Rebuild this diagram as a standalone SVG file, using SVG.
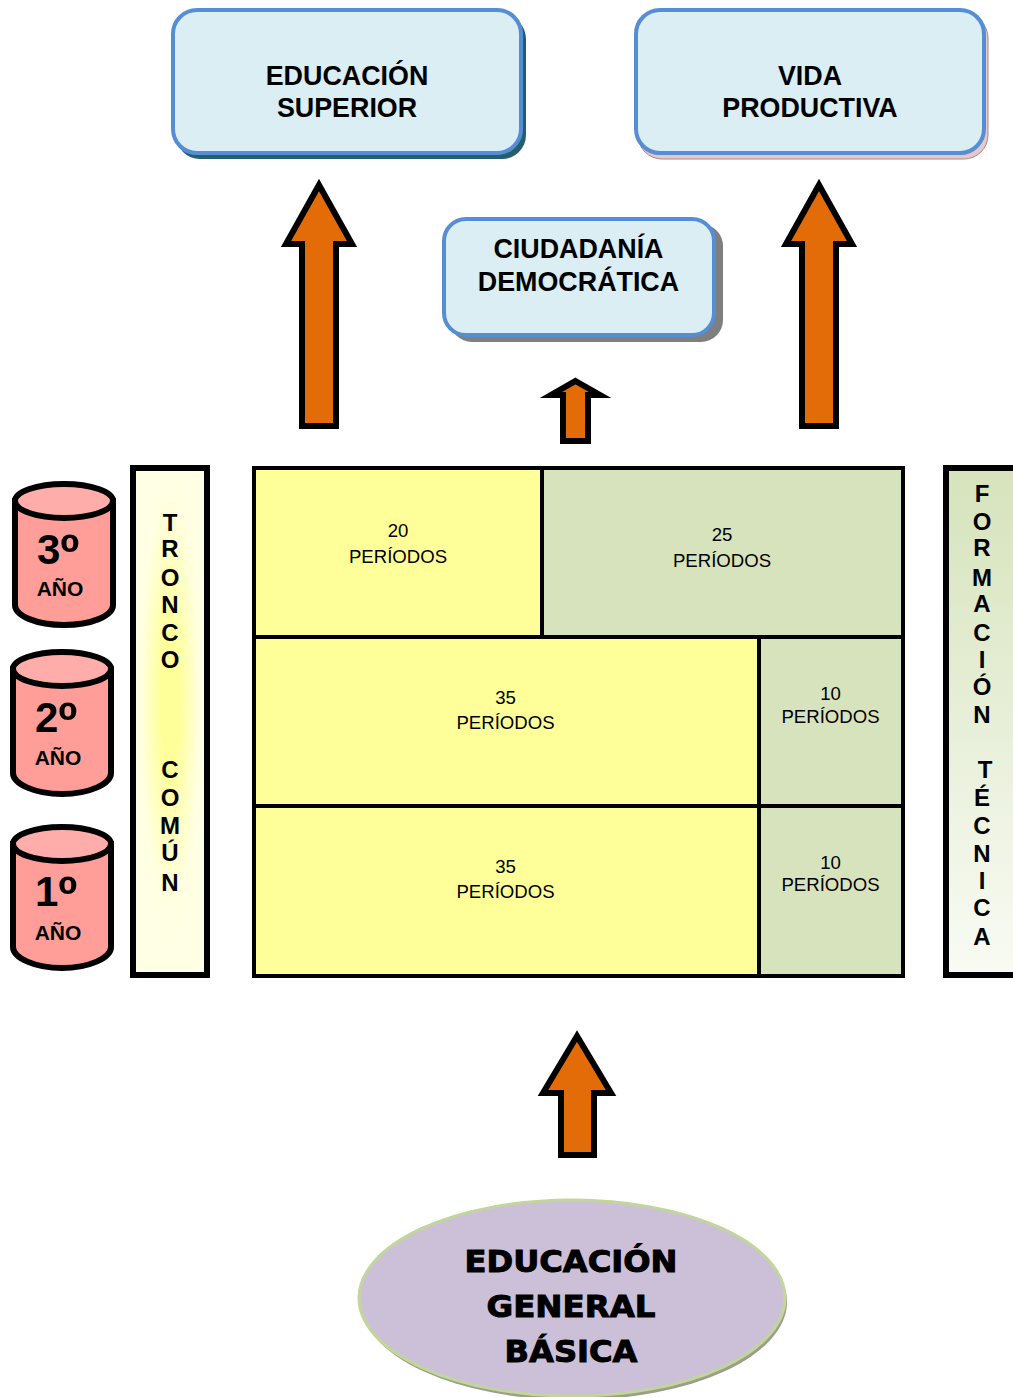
<svg xmlns="http://www.w3.org/2000/svg" width="1013" height="1397" viewBox="0 0 1013 1397">
<style>
text{font-family:"Liberation Sans",Arial,sans-serif;fill:#000}
.b{font-weight:bold;text-anchor:middle;font-size:26.850px}
.v{font-weight:bold;text-anchor:middle;font-size:24px}
.p{text-anchor:middle;font-size:18.6px}
.box{fill:#DBEEF4;stroke:#558ED5;stroke-width:4}
.arrow{fill:#E36C09;stroke:#000;stroke-width:6;stroke-miterlimit:10}
.cell{stroke:#000;stroke-width:4}
.y{fill:#FFFF99}.g{fill:#D7E3BC}
.cyl{fill:#FF9E99;stroke:#000;stroke-width:6}
.top{fill:#FFADAA;stroke:#000;stroke-width:6}
.n{font-weight:bold;font-size:42px}
.o{font-size:52px}
.a{font-weight:bold;font-size:21px;text-anchor:middle}
text.e{font-family:"DejaVu Sans",sans-serif;font-weight:bold;font-size:31px;text-anchor:middle;stroke:#000;stroke-width:1}
</style>
<defs>
<linearGradient id="ft" x1="0" y1="0" x2="0" y2="1"><stop offset="0" stop-color="#D6E3BC"/><stop offset="1" stop-color="#F9FBF4"/></linearGradient>
<radialGradient id="tc" cx="0.5" cy="0.46" r="0.5"><stop offset="0" stop-color="#FFFF99"/><stop offset="0.25" stop-color="#FFFF99"/><stop offset="0.8" stop-color="#FFFFE2"/><stop offset="1" stop-color="#FFFFE6"/></radialGradient>
</defs>
<g id="educacion-superior">
<rect x="176" y="15" width="350" height="144" rx="24" fill="#245F6E"/>
<rect class="box" x="173" y="10" width="348" height="143" rx="24"/>
<text class="b" x="347" y="85">EDUCACIÓN</text><text class="b" x="347" y="117">SUPERIOR</text>
</g>
<g id="vida-productiva">
<rect x="638" y="14" width="350" height="145" rx="24" fill="#E6C8C8" stroke="#A88" stroke-width="1"/>
<rect class="box" x="636" y="10" width="348" height="143" rx="24"/>
<text class="b" x="810" y="85">VIDA</text><text class="b" x="810" y="117">PRODUCTIVA</text>
</g>
<g id="ciudadania">
<rect x="450" y="224" width="273" height="118" rx="22" fill="#7F7F7F"/>
<rect class="box" x="444" y="219" width="270" height="116" rx="22"/>
<text class="b" x="578.500" y="258">CIUDADANÍA</text><text class="b" x="578.500" y="291">DEMOCRÁTICA</text>
</g>
<g id="connectors">
<path class="arrow" d="M319 185L352 244H336V426H302V244H286Z"/>
<path class="arrow" d="M819 185L852 244H836V426H802V244H786Z"/>
<path class="arrow" d="M575.500 381L600 395H588V441H563V395H551Z"/>
<path class="arrow" d="M577 1036L611 1093H594V1155H561V1093H543Z"/>
</g>
<g id="anio-3">
<path class="cyl" d="M15 501V605C15 616 37 625 64 625S113 616 113 605V501Z"/>
<ellipse class="top" cx="64" cy="501" rx="49" ry="17"/>
<text class="n" x="37" y="564">3<tspan class="o" dy="6">º</tspan></text><text class="a" x="60" y="596">AÑO</text>
</g>
<g id="anio-2">
<path class="cyl" d="M13 669V773C13 784 35 794 62 794S111 784 111 773V669Z"/>
<ellipse class="top" cx="62" cy="669" rx="49" ry="17"/>
<text class="n" x="35" y="732">2<tspan class="o" dy="6">º</tspan></text><text class="a" x="58" y="765">AÑO</text>
</g>
<g id="anio-1">
<path class="cyl" d="M13 844V947C13 958 35 968 62 968S111 958 111 947V844Z"/>
<ellipse class="top" cx="62" cy="844" rx="49" ry="17"/>
<text class="n" x="35" y="906">1<tspan class="o" dy="6">º</tspan></text><text class="a" x="58" y="940">AÑO</text>
</g>
<g id="tronco-comun">
<rect x="133" y="468" width="74" height="507" fill="url(#tc)" stroke="#000" stroke-width="6"/>
<text class="v"><tspan x="170" y="531">T</tspan><tspan x="170" y="557">R</tspan><tspan x="170" y="586">O</tspan><tspan x="170" y="613">N</tspan><tspan x="170" y="641">C</tspan><tspan x="170" y="668">O</tspan><tspan x="170" y="778">C</tspan><tspan x="170" y="806">O</tspan><tspan x="170" y="834">M</tspan><tspan x="170" y="861">Ú</tspan><tspan x="170" y="891">N</tspan></text>
</g>
<g id="formacion-tecnica">
<rect x="946" y="468" width="80" height="507" fill="url(#ft)" stroke="#000" stroke-width="6"/>
<text class="v"><tspan x="982" y="502">F</tspan><tspan x="982" y="530">O</tspan><tspan x="982" y="556">R</tspan><tspan x="982" y="586">M</tspan><tspan x="982" y="612">A</tspan><tspan x="982" y="641">C</tspan><tspan x="982" y="668">I</tspan><tspan x="982" y="695">Ó</tspan><tspan x="982" y="723">N</tspan><tspan x="985" y="778">T</tspan><tspan x="982" y="806">É</tspan><tspan x="982" y="834">C</tspan><tspan x="982" y="862">N</tspan><tspan x="982" y="889">I</tspan><tspan x="982" y="916">C</tspan><tspan x="982" y="945">A</tspan></text>
</g>
<g id="c-3-tronco"><rect class="cell y" x="254" y="468" width="288" height="169"/><text class="p" x="398" y="537">20</text><text class="p" x="398" y="563">PERÍODOS</text></g>
<g id="c-3-formacion"><rect class="cell g" x="542" y="468" width="361" height="169"/><text class="p" x="722" y="541">25</text><text class="p" x="722" y="567">PERÍODOS</text></g>
<g id="c-2-tronco"><rect class="cell y" x="254" y="637" width="505" height="169"/><text class="p" x="505.500" y="704">35</text><text class="p" x="505.500" y="729">PERÍODOS</text></g>
<g id="c-2-formacion"><rect class="cell g" x="759" y="637" width="144" height="169"/><text class="p" x="830.500" y="700">10</text><text class="p" x="830.500" y="723">PERÍODOS</text></g>
<g id="c-1-tronco"><rect class="cell y" x="254" y="806" width="505" height="170"/><text class="p" x="505.500" y="873">35</text><text class="p" x="505.500" y="898">PERÍODOS</text></g>
<g id="c-1-formacion"><rect class="cell g" x="759" y="806" width="144" height="170"/><text class="p" x="830.500" y="869">10</text><text class="p" x="830.500" y="891">PERÍODOS</text></g>
<g id="educacion-general-basica">
<ellipse cx="574" cy="1302" rx="213" ry="98" fill="#9A9E8A"/>
<ellipse cx="572" cy="1298" rx="213" ry="98" fill="#CCC0D9" stroke="#C2D69B" stroke-width="3"/>
<text class="e" x="571" y="1272" textLength="213" lengthAdjust="spacingAndGlyphs">EDUCACIÓN</text>
<text class="e" x="571" y="1317" textLength="169" lengthAdjust="spacingAndGlyphs">GENERAL</text>
<text class="e" x="571" y="1362" textLength="133" lengthAdjust="spacingAndGlyphs">BÁSICA</text>
</g>
</svg>
